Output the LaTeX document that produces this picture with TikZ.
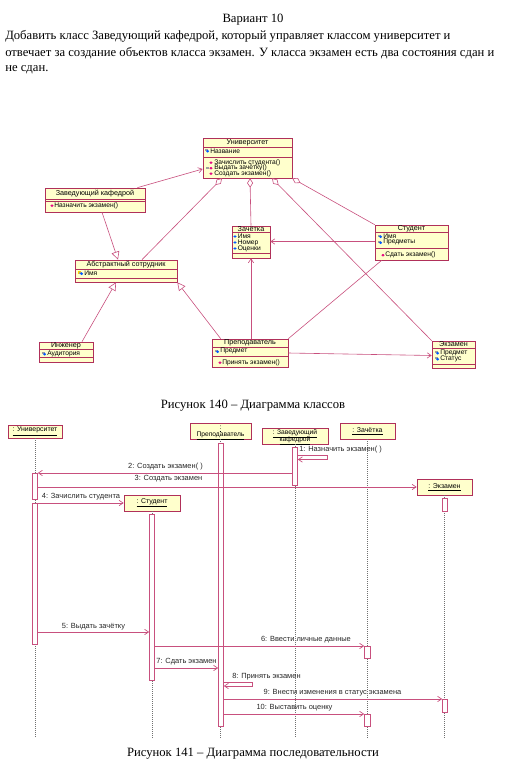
\documentclass[tikz,border=0pt]{standalone}
\usepackage{fontspec}
\setmainfont{Liberation Serif}
\newfontfamily\umlfont{Liberation Sans}
\usetikzlibrary{arrows.meta}
\definecolor{clsborder}{HTML}{B0305A}
\definecolor{clsfill}{HTML}{FFFFCC}
\definecolor{linkc}{HTML}{C8507E}
\definecolor{lifec}{HTML}{707070}
\newcommand\attric[2]{%
  \fill[gray!75] (#1-2.2,#2-2) rectangle (#1+0.6,#2+0.4);
  \fill[blue!65!cyan] (#1+0.6,#2-1.2) -- (#1+2.2,#2+0.2) -- (#1+0.6,#2+1.6) -- (#1-1,#2+0.2) -- cycle;}
\newcommand\opic[2]{%
  \fill[magenta!85!purple] (#1,#2-2.2) -- (#1+1.6,#2-0.8) -- (#1,#2+0.6) -- (#1-1.6,#2-0.8) -- cycle;}
\begin{document}
\begin{tikzpicture}[x=0.75pt,y=-0.75pt,
  sz/.style 2 args={minimum width=#1*0.75pt, minimum height=#2*0.75pt},
  cls/.style={draw=clsborder, fill=clsfill, line width=0.5pt, inner sep=0pt},
  sepl/.style={draw=clsborder, line width=0.4pt},
  hdr/.style={font=\umlfont\fontsize{5.4}{6}\selectfont, inner sep=0pt},
  mem/.style={font=\umlfont\fontsize{5}{5.5}\selectfont, inner sep=0pt, anchor=west},
  link/.style={draw=linkc, line width=0.45pt},
  gen/.style={link, -{Triangle[open, length=6pt, width=6pt, fill=white]}},
  nav/.style={link, -{Straight Barb[length=3pt, width=4pt]}},
  agg/.style={link, {Diamond[open, length=7pt, width=4.5pt, fill=white]}-},
  objbox/.style={draw=clsborder, fill=clsfill, line width=0.5pt, inner sep=0pt},
  obj/.style={objbox, font=\umlfont\fontsize{5.2}{5.6}\selectfont},
  otxt/.style={font=\umlfont\fontsize{5}{5.5}\selectfont, inner sep=0pt, anchor=base},
  act/.style={draw=linkc, fill=white, line width=0.5pt, inner sep=0pt},
  life/.style={draw=lifec, densely dotted, line width=0.5pt},
  msg/.style={draw=linkc, line width=0.5pt, -{Straight Barb[length=3pt, width=4pt]}},
  lbl/.style={font=\umlfont\fontsize{5.6}{6.5}\selectfont, inner sep=0pt, text=black!85},
  body/.style={font=\fontsize{9.5}{11.5}\selectfont, inner sep=0pt},
]
\useasboundingbox (0,0) rectangle (510,774);

% ---------- header text ----------
\node[body] (title) at (253,20) {Вариант 10};
\node[body, anchor=west] (t1) at (5,36.5) {Добавить класс Заведующий кафедрой, который управляет классом университет и};
\node[body, anchor=west] (t2) at (5,53) {отвечает за создание объектов класса экзамен. У класса экзамен есть два состояния сдан и};
\node[body, anchor=west] (t3) at (5,69.5) {не сдан.};

% ---------- class diagram ----------
% Университет
\node[cls, sz={89}{40}] (univ) at (247.5,158) {};
\draw[sepl] (203,147) -- (292,147) (203,157) -- (292,157);
\node[hdr] (univh) at (247.5,142.5) {Университет};
\attric{207}{151}
\node[mem] (univa) at (210,151) {Название};
\opic{211}{163.5}\opic{211}{169}\opic{211}{174.5}
\fill[gray!75] (206,166.5) rectangle (209,169);
\node[mem] (univo1) at (214,162.5) {Зачислить студента()};
\node[mem] (univo2) at (214,168) {Выдать зачётку()};
\node[mem] (univo3) at (214,173.5) {Создать экзамен()};

% Заведующий кафедрой
\node[cls, sz={100}{24}] (zav) at (95,200) {};
\draw[sepl] (45,199) -- (145,199) (45,201) -- (145,201);
\node[hdr] (zavh) at (95,193.5) {Заведующий кафедрой};
\opic{52}{206.5}
\node[mem] (zavo) at (54,205.5) {Назначить экзамен()};

% Абстрактный сотрудник
\node[cls, sz={102}{22}] (abs) at (126,271) {};
\draw[sepl] (75,269) -- (177,269) (75,278) -- (177,278);
\node[hdr] (absh) at (126,264.5) {Абстрактный сотрудник};
\fill[yellow!70!orange] (78,271) rectangle (81,274);
\attric{81}{273.5}
\node[mem] (absa) at (84,273) {Имя};

% Зачётка
\node[cls, sz={38}{32}] (zach) at (251,242) {};
\draw[sepl] (232,232) -- (270,232) (232,253) -- (270,253);
\node[hdr] (zachh) at (251,229) {Зачётка};
\fill[blue!65!cyan] (235,236.5) ellipse (1.6 and 1.2);
\fill[blue!65!cyan] (235,242.5) ellipse (1.6 and 1.2);
\fill[blue!65!cyan] (235,248.5) ellipse (1.6 and 1.2);
\node[mem] (zacha1) at (237.5,236.5) {Имя};
\node[mem] (zacha2) at (237.5,242.5) {Номер};
\node[mem] (zacha3) at (237.5,248.5) {Оценки};

% Студент
\node[cls, sz={73}{35}] (stud) at (411.5,242.5) {};
\draw[sepl] (375,232) -- (448,232) (375,248) -- (448,248);
\node[hdr] (studh) at (411.5,228.7) {Студент};
\attric{380}{236.5}\attric{380}{242.5}
\node[mem] (studa1) at (383,236) {Имя};
\node[mem] (studa2) at (383,242) {Предметы};
\opic{383}{256}
\node[mem] (studo) at (385,255) {Сдать экзамен()};

% Инженер
\node[cls, sz={54}{20}] (eng) at (66,352) {};
\draw[sepl] (39,349) -- (93,349) (39,357) -- (93,357);
\node[hdr] (engh) at (66,345.5) {Инженер};
\attric{44}{354}
\node[mem] (enga) at (47,353.5) {Аудитория};

% Преподаватель
\node[cls, sz={76}{28}] (prep) at (250,353) {};
\draw[sepl] (212,347) -- (288,347) (212,356) -- (288,356);
\node[hdr] (preph) at (250,343) {Преподаватель};
\attric{217}{351.5}
\node[mem] (prepa) at (220,351) {Предмет};
\opic{220}{363.5}
\node[mem] (prepo) at (222,362.5) {Принять экзамен()};

% Экзамен
\node[cls, sz={43}{27}] (exam) at (453.5,354.5) {};
\draw[sepl] (432,348) -- (475,348) (432,364) -- (475,364);
\node[hdr] (examh) at (453.5,344.5) {Экзамен};
\attric{437}{353}\attric{437}{359}
\node[mem] (exama1) at (440,352.5) {Предмет};
\node[mem] (exama2) at (440,358.5) {Статус};

% connectors
\draw[nav] (zav.north east) ++(-8,0) coordinate (zavc) -- (univ.west |- 0,169);
\draw[gen] (zav.south) ++(7,0) coordinate (zavb) -- (abs.north -| 118,0);
\draw[agg] (univ.south -| 222,0) -- (abs.north -| 142,0);
\draw[agg] (univ.south -| 250,0) -- (zach.north);
\draw[agg] (univ.south -| 272,0) -- (exam.north west);
\draw[agg] (univ.south east) -- (stud.north west);
\draw[nav] (stud.west |- 0,241.5) -- (zach.east |- 0,241.5);
\draw[link] (stud.south west) ++(7,0) coordinate (studb) -- (prep.north east);
\draw[nav] (prep.north -| 251,0) -- (zach.south);
\draw[gen] (prep.north west) ++(9,0) coordinate (prept) -- (abs.south east) ;
\draw[gen] (eng.north) ++(16,0) coordinate (engt) -- (abs.south -| 116,0);
\draw[nav] (prep.east |- 0,353) -- (exam.west |- 0,355.5);

\node[body] (cap1) at (253,405.5) {Рисунок 140 -- Диаграмма классов};

% ---------- sequence diagram ----------
\node[obj, sz={54}{13}] (oU) at (35,431.5) {\underline{: Университет}};
\node[objbox, sz={61}{16}] (oP) at (220.5,431) {};
\node[otxt] (oPt1) at (220.5,429.5) {\underline{:}};
\node[otxt] (oPt2) at (220.5,436.5) {\underline{Преподаватель}};
\node[objbox, sz={66}{16}] (oZ) at (295,436) {};
\node[otxt] (oZt1) at (295,434.3) {\underline{: Заведующий}};
\node[otxt] (oZt2) at (295,441.5) {\underline{кафедрой}};
\node[obj, sz={55}{16}] (oZa) at (367.5,431) {\underline{: Зачётка}};
\node[obj, sz={55}{16}] (oE) at (444.5,487) {\underline{: Экзамен}};
\node[obj, sz={56}{16}] (oS) at (152,503) {\underline{: Студент}};

\draw[life] (oU.south) -- (oU.south |- 0,738);
\draw[life] (oP.south) -- (oP.south |- 0,738);
\draw[life] (oZ.south) -- (oZ.south |- 0,738);
\draw[life] (oZa.south) -- (oZa.south |- 0,738);
\draw[life] (oE.south) -- (oE.south |- 0,738);
\draw[life] (oS.south) -- (oS.south |- 0,738);

\node[act, sz={5}{38}] (aZ) at (295,466) {};
\node[act, sz={5}{26}] (aU1) at (35,486) {};
\node[act, sz={5}{141}] (aU2) at (35,573.5) {};
\node[act, sz={5}{283}] (aP) at (221,584.5) {};
\node[act, sz={5}{166}] (aS) at (152,597) {};
\node[act, sz={5}{13}] (aE1) at (445,504.5) {};
\node[act, sz={5}{13}] (aE2) at (445,705.5) {};
\node[act, sz={6}{12}] (aZa1) at (367.5,652) {};
\node[act, sz={6}{12}] (aZa2) at (367.5,720) {};

% messages
\draw[msg] (aZ.east |- 0,455.5) -- (327,455.5) -- (327,459.5) -- (aZ.east |- 0,459.5);
\node[lbl, anchor=west] (m1) at (299,449.5) {1: Назначить экзамен( )};
\draw[msg] (aZ.west |- 0,473) -- (aU1.east |- 0,473);
\node[lbl] (m2) at (165.5,467) {2: Создать экзамен( )};
\draw[msg] (aU1.east |- 0,487) -- (oE.west);
\node[lbl] (m3) at (168.5,478.5) {3: Создать экзамен};
\draw[msg] (aU2.east |- 0,503) -- (oS.west);
\node[lbl] (m4) at (81,497) {4: Зачислить студента};
\draw[msg] (aU2.east |- 0,632) -- (aS.west |- 0,632);
\node[lbl] (m5) at (93.5,626.5) {5: Выдать зачётку};
\draw[msg] (aS.east |- 0,646) -- (aZa1.west |- 0,646);
\node[lbl] (m6) at (306,640) {6: Ввести личные данные};
\draw[msg] (aS.east |- 0,668) -- (aP.west |- 0,668);
\node[lbl] (m7) at (186.5,662) {7: Сдать экзамен};
\draw[msg] (aP.east |- 0,682) -- (252,682) -- (252,686) -- (aP.east |- 0,686);
\node[lbl, anchor=west] (m8) at (232,677) {8: Принять экзамен};
\draw[msg] (aP.east |- 0,699) -- (aE2.west |- 0,699);
\node[lbl] (m9) at (332.5,693) {9: Внести изменения в статус экзамена};
\draw[msg] (aP.east |- 0,714) -- (aZa2.west |- 0,714);
\node[lbl] (m10) at (294.5,708) {10: Выставить оценку};

\node[body] (cap2) at (253,753.5) {Рисунок 141 -- Диаграмма последовательности};
\end{tikzpicture}
\end{document}
